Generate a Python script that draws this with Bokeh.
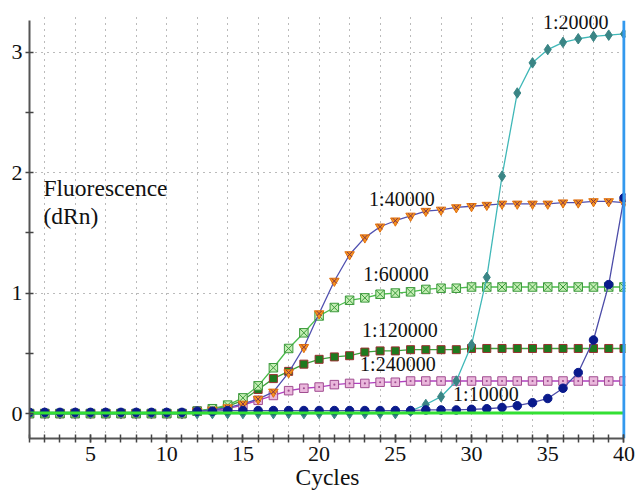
from bokeh.plotting import figure
from bokeh.models import FixedTicker, Range1d, Label, Span
from bokeh.embed import file_html
from bokeh.resources import INLINE

cycles = list(range(1, 41))

dil_10000 = [0.01] * 11 + [0.02, 0.02, 0.025, 0.025, 0.025, 0.025, 0.025, 0.025, 0.025,
                          0.025, 0.025, 0.025, 0.025, 0.025, 0.025, 0.03, 0.03, 0.03,
                          0.035, 0.04, 0.05, 0.065, 0.09, 0.125, 0.21, 0.34, 0.61, 1.07, 1.79]
dil_20000 = [0.0] * 25 + [0.02, 0.075, 0.14, 0.27, 0.57, 1.13, 1.97, 2.66, 2.91, 3.02,
                          3.08, 3.11, 3.13, 3.14, 3.15]
dil_40000 = [0.0] * 11 + [0.02, 0.03, 0.05, 0.08, 0.12, 0.18, 0.34, 0.55, 0.83, 1.10,
                          1.32, 1.46, 1.55, 1.60, 1.64, 1.68, 1.69, 1.71, 1.72, 1.73,
                          1.74, 1.74, 1.74, 1.74, 1.75, 1.75, 1.76, 1.76, 1.75]
dil_60000 = [0.0] * 11 + [0.02, 0.04, 0.07, 0.13, 0.23, 0.38, 0.54, 0.67, 0.81, 0.88,
                          0.94, 0.96, 0.99, 1.00, 1.01, 1.03, 1.04, 1.04, 1.05, 1.05,
                          1.05, 1.05, 1.05, 1.05, 1.05, 1.05, 1.05, 1.05, 1.05]
dil_120000 = [0.0] * 11 + [0.02, 0.04, 0.06, 0.11, 0.20, 0.29, 0.35, 0.41, 0.45, 0.47,
                           0.48, 0.51, 0.52, 0.52, 0.53, 0.53, 0.53, 0.53, 0.54, 0.54,
                           0.54, 0.54, 0.54, 0.54, 0.54, 0.54, 0.54, 0.54, 0.54]
dil_240000 = [0.0] * 11 + [0.02, 0.03, 0.04, 0.07, 0.11, 0.15, 0.19, 0.21, 0.22, 0.24,
                           0.25, 0.25, 0.26, 0.26, 0.27, 0.27, 0.27, 0.27, 0.27, 0.27,
                           0.27, 0.27, 0.27, 0.27, 0.27, 0.27, 0.27, 0.27, 0.27]
threshold = 0.005
current_cycle = 40
x_tick_labels = [5, 10, 15, 20, 25, 30, 35, 40]
y_tick_labels = [0, 1, 2, 3]

FONT = "Liberation Serif"

p = figure(width=635, height=499, output_backend="svg", toolbar_location=None,
           x_range=Range1d(1, 40.1), y_range=Range1d(-0.207, 3.303),
           min_border_left=29, min_border_right=10, min_border_top=15, min_border_bottom=61)
p.outline_line_color = None
p.background_fill_color = "white"

# axes
for ax in (p.xaxis[0], p.yaxis[0]):
    ax.axis_line_color = "#555555"
    ax.axis_line_width = 2
    ax.major_tick_line_color = "#444444"
    ax.minor_tick_line_color = "#444444"
    ax.major_tick_line_width = 1.5
    ax.minor_tick_line_width = 1.5
    ax.major_tick_in = 4
    ax.major_tick_out = 4
    ax.minor_tick_in = 4
    ax.minor_tick_out = 4
    ax.major_label_text_font = FONT
    ax.major_label_text_font_size = "22px"
    ax.major_label_text_color = "#111111"

p.xaxis.bounds = (1, 40)
p.yaxis.bounds = (-0.207, 3.26)
p.xaxis.ticker = FixedTicker(ticks=x_tick_labels, minor_ticks=cycles)
p.yaxis.ticker = FixedTicker(ticks=y_tick_labels, minor_ticks=[0.5, 1.5, 2.5])
p.xaxis.major_label_standoff = 4
p.yaxis.major_label_standoff = 3
p.xaxis.axis_label = "Cycles"
p.xaxis.axis_label_text_font = FONT
p.xaxis.axis_label_text_font_size = "23.5px"
p.xaxis.axis_label_text_font_style = "normal"
p.xaxis.axis_label_text_color = "#111111"
p.xaxis.axis_label_standoff = 0

# grids
p.xgrid.ticker = FixedTicker(ticks=list(range(2, 40, 2)))
p.ygrid.ticker = FixedTicker(ticks=[1, 2, 3])
for g in (p.xgrid[0], p.ygrid[0]):
    g.grid_line_color = "#777777"
    g.grid_line_width = 1
    g.grid_line_dash = "1 5"

# series: line then markers
def series(vals, line_color, marker, fill, edge, size, lw=1.3):
    p.line(cycles, vals, line_color=line_color, line_width=lw)
    p.scatter(cycles, vals, marker=marker, size=size, fill_color=fill,
              line_color=edge, line_width=1)

series(dil_240000, "#b040c0", "square_dot", "#eab8dc", "#a04c90", 8.5)
series(dil_120000, "#3ca03c", "square", "#1e7a1e", "#9a3030", 8)
series(dil_60000, "#4cbc4c", "square_x", "#c4eeb4", "#3c9a3c", 8.5)
series(dil_40000, "#5050b0", "inverted_triangle", "#f7941d", "#e07010", 9.5)
p.scatter(cycles, dil_40000, marker="x", size=7, line_color="#7a3050", line_width=1)
series(dil_20000, "#40b8b8", "diamond", "#3a8585", "#3a8585", 10.5)
series(dil_10000, "#4c4ca8", "circle", "#0a1a8c", "#0a1a8c", 8.5)

# threshold line
p.line([cycles[0], cycles[-1]], [threshold, threshold], line_color="#33e033", line_width=3)
# current-cycle marker
p.segment(x0=[current_cycle], y0=[-0.207], x1=[current_cycle], y1=[3.26],
          line_color="#3399ee", line_width=3)

# series labels
labels = [("1:20000", 34.68, 3.245), ("1:40000", 23.28, 1.78), ("1:60000", 22.89, 1.16),
          ("1:120000", 22.82, 0.69), ("1:240000", 22.69, 0.415), ("1:10000", 28.79, 0.166)]
for txt, lx, ly in labels:
    p.add_layout(Label(x=lx, y=ly, text=txt, text_font=FONT, text_font_size="20px",
                       text_align="left", text_baseline="middle", text_color="#111111"))

p.add_layout(Label(x=1.92, y=1.875, text="Fluorescence", text_font=FONT,
                   text_font_size="23.5px", text_baseline="alphabetic", text_color="#111111"))
p.add_layout(Label(x=1.92, y=1.64, text="(dRn)", text_font=FONT,
                   text_font_size="23.5px", text_baseline="alphabetic", text_color="#111111"))

open("out.html", "w").write(file_html(p, INLINE))
